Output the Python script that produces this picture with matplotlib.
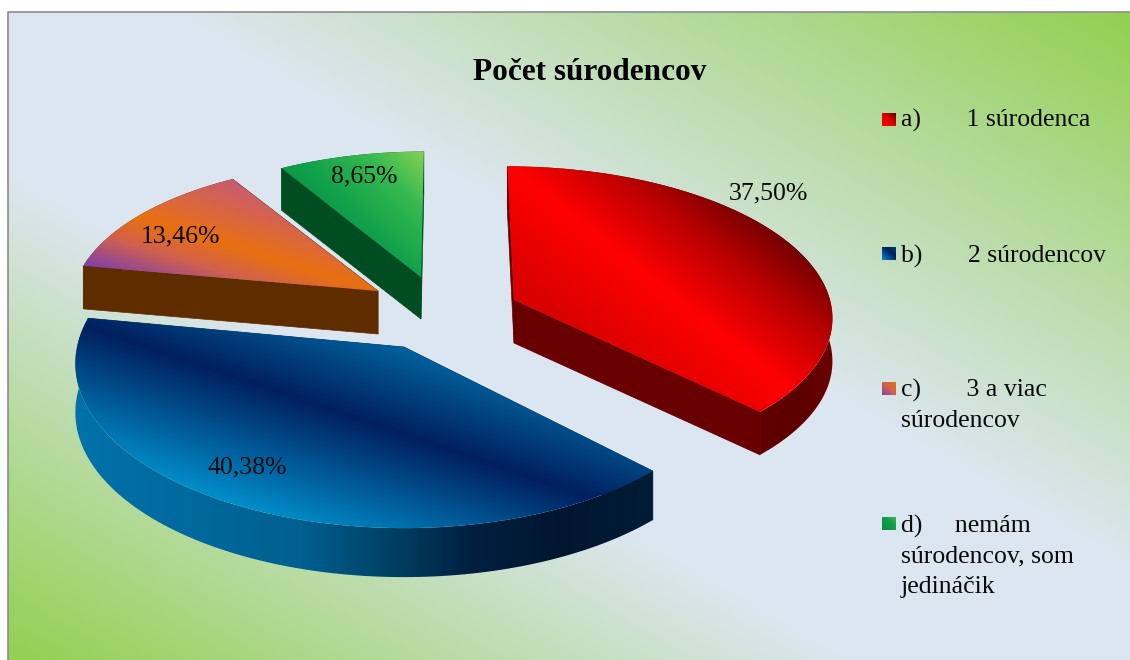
import numpy as np
import matplotlib
matplotlib.use("Agg")
import matplotlib.pyplot as plt
from matplotlib.colors import to_rgb
from matplotlib.patches import Polygon

# ---- data ----
title = "Počet súrodencov"
categories = ["a)       1 súrodenca", "b)       2 súrodencov",
              "c)       3 a viac\nsúrodencov", "d)     nemám\nsúrodencov, som\njedináčik"]
values = [37.50, 40.38, 13.46, 8.65]

# ---- per-slice drawing geometry (pixels) ----
apex = [(514, 300), (404, 347), (378, 291), (421, 277)]
semi_a = [316, 327, 305, 298]
semi_b = [147, 163, 142, 138]
shear = [0.05, 0.0, 0.0, -0.024]
depth = [43, 49, 43, 42]
persp = 0.1
label_xy = [(768, 193), (247, 467), (180, 236), (364, 176)]
legend_y = [123, 259, 393, 529]
legend_square_y = [113, 247, 382, 517]

plt.rcParams["font.family"] = ["Liberation Serif", "DejaVu Serif"]
W, H = 1130, 660
fig = plt.figure(figsize=(W / 100, H / 100), dpi=100, facecolor="white")
ax = fig.add_axes([0, 0, 1, 1])
ax.set_xlim(0, W)
ax.set_ylim(H, 0)
ax.axis("off")


def ramp(t, stops):
    ts = [s[0] for s in stops]
    cs = np.array([to_rgb(s[1]) for s in stops])
    return np.dstack([np.interp(t, ts, cs[:, i]) for i in range(3)])


def paint(pts, func, zorder):
    pts = np.asarray(pts)
    x0, x1 = int(pts[:, 0].min()) - 2, int(pts[:, 0].max()) + 3
    y0, y1 = int(pts[:, 1].min()) - 2, int(pts[:, 1].max()) + 3
    X, Y = np.meshgrid(np.arange(x0, x1) + .5, np.arange(y0, y1) + .5)
    im = ax.imshow(func(X, Y), extent=(x0, x1, y1, y0), aspect="auto", zorder=zorder,
                   interpolation="bilinear")
    patch = Polygon(pts, closed=True, transform=ax.transData, fc="none", ec="none")
    ax.add_patch(patch)
    im.set_clip_path(patch)


# background
def bg(X, Y):
    t = (X - 8) / (W - 8) + 1 - (Y - 12) / (H - 12)
    return ramp(t, [(0, "#92d050"), (.75, "#dce6f0"), (1.15, "#dce6f0"), (2, "#92d050")])


paint([(8, 12), (W, 12), (W, H), (8, H)], bg, 0)
ax.plot([8, 8, W], [H, 12, 12], color="#8c8c8c", lw=1.2, zorder=1)
ax.set_xlim(0, W)
ax.set_ylim(H, 0)


# face gradients
def red_top(X, Y):
    d = (X - 540) * 0.62 - (Y - 190) * 0.78
    return ramp(d, [(-90, "#d80000"), (0, "#ff0000"), (65, "#b80000"), (110, "#780000"), (170, "#800000")])


def blue_top(X, Y):
    d = Y - (370 + (X - 215) * 0.34)
    return ramp(d, [(-95, "#0068a2"), (0, "#001f5e"), (125, "#008cc8")])


def orange_top(X, Y):
    d = Y - (221 + (X - 150) * 0.31)
    return ramp(d, [(-64, "#c85c70"), (-25, "#dd6838"), (0, "#e87010"), (29, "#d06050"), (64, "#8040a8")])


def green_top(X, Y):
    d = (424 - X + Y - 151) * 0.71
    return ramp(d, [(0, "#84d255"), (45, "#34b850"), (95, "#10a04a"), (140, "#0b8c42")])


def blue_side(X, Y):
    return ramp(X, [(75, "#0072aa"), (300, "#006090"), (400, "#003d60"), (470, "#002040"), (560, "#001630"), (653, "#001c34")])


def red_side(X, Y):
    return ramp(X, [(760, "#620000"), (800, "#5c0000"), (830, "#6a0000")])


def flat(color):
    return lambda X, Y: ramp(np.zeros_like(X), [(0, color), (1, color)])


tops = [red_top, blue_top, orange_top, green_top]
arc_sides = [red_side, blue_side, flat("#5f2c00"), flat("#004d22")]
edge_colors = ["#680000", "#00365c", "#5f2c00", "#004d22"]
order = [2, 3, 0, 1]  # back slices first


def project(i, theta):
    u, v = np.sin(theta), -np.cos(theta)
    s = 1 - persp * v
    x = semi_a[i] * u / s
    y = semi_b[i] * v / s
    return np.column_stack([apex[i][0] + x + shear[i] * y, apex[i][1] + y])


edges = np.cumsum([0] + values) * 3.6
for i in order:
    theta = np.radians(np.linspace(edges[i], edges[i + 1], 120))
    arc = project(i, theta)
    c = np.array(apex[i], dtype=float)
    dz = np.array([0, depth[i]])
    for p in (arc[0], arc[-1]):
        ax.add_patch(Polygon([c, p, p + dz, c + dz], closed=True, fc=edge_colors[i], ec=edge_colors[i], lw=.5, zorder=3 + order.index(i) * 3))
    paint(np.vstack([arc, (arc + dz)[::-1]]), arc_sides[i], 4 + order.index(i) * 3)
    paint(np.vstack([[c], arc]), tops[i], 5 + order.index(i) * 3)

# value labels
for v, (x, y) in zip(values, label_xy):
    ax.text(x, y, f"{v:.2f}".replace(".", ",") + "%", ha="center", va="center",
            fontsize=18.5, color="#0a0a0a", zorder=30)

# title
ax.text(590, 72, title, ha="center", va="center", fontsize=22.5, fontweight="bold", color="black", zorder=30)

# legend
swatches = [[(0, "#ff0000"), (.5, "#e00000"), (1, "#600000")],
            [(0, "#0090d0"), (.6, "#002060"), (1, "#004070")],
            [(0, "#8040a8"), (.5, "#d06050"), (1, "#e87010")],
            [(0, "#0b8c42"), (.6, "#10a04a"), (1, "#40b850")]]
for i, lab in enumerate(categories):
    sy = legend_square_y[i]

    def sw(X, Y, sy=sy, st=swatches[i]):
        return ramp(((X - 882) / 14 + 1 - (Y - sy) / 13) / 2, st)

    paint([(882, sy), (896, sy), (896, sy + 13), (882, sy + 13)], sw, 30)
    ax.text(901, legend_y[i] - 14, lab, ha="left", va="top", fontsize=18.5, color="#0a0a0a",
            linespacing=1.46, zorder=30)

ax.set_xlim(0, W)
ax.set_ylim(H, 0)
fig.savefig("out.png", dpi=100)
